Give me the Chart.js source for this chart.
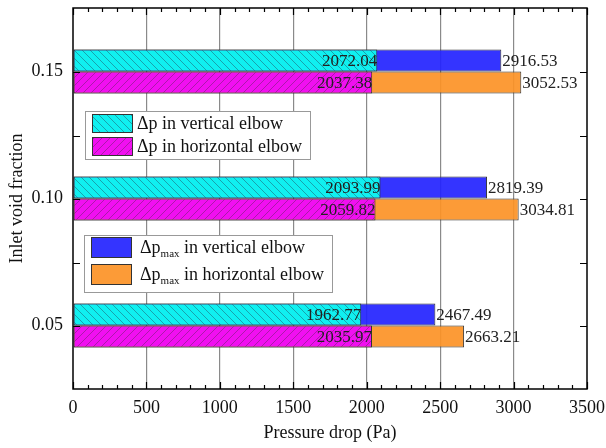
<!DOCTYPE html>
<html>
<head>
<meta charset="utf-8">
<script src="https://cdn.jsdelivr.net/npm/chart.js@4"></script>
<style>
  html, body { margin: 0; padding: 0; background: #fff; }
  #wrap { width: 606px; height: 448px; }
</style>
</head>
<body>
<div id="wrap"><canvas id="c" width="606" height="448"></canvas></div>
<script>
// data
const fractions = ['0.15', '0.10', '0.05'];
const dpVertical = [2072.04, 2093.99, 1962.77];
const dpHorizontal = [2037.38, 2059.82, 2035.97];
const dpMaxVertical = [2916.53, 2819.39, 2467.49];
const dpMaxHorizontal = [3052.53, 3034.81, 2663.21];
const xTicks = [0, 500, 1000, 1500, 2000, 2500, 3000, 3500];

const FONT = '"Liberation Serif", "Times New Roman", serif';

function makeHatch(bg, line, dir) {
    const c = document.createElement('canvas');
    c.width = 8; c.height = 8;
    const g = c.getContext('2d');
    g.fillStyle = bg;
    g.fillRect(0, 0, 8, 8);
    g.strokeStyle = line;
    g.lineWidth = 0.8;
    g.beginPath();
    if (dir === 'back') {
        g.moveTo(-1, -1); g.lineTo(9, 9);
        g.moveTo(7, -1); g.lineTo(9, 1);
        g.moveTo(-1, 7); g.lineTo(1, 9);
    } else {
        g.moveTo(-1, 9); g.lineTo(9, -1);
        g.moveTo(-1, 1); g.lineTo(1, -1);
        g.moveTo(7, 9); g.lineTo(9, 7);
    }
    g.stroke();
    return g.createPattern(c, 'repeat');
}

const ctx = document.getElementById('c').getContext('2d');
const cyanHatch = makeHatch('#10f0f0', '#1a8f9a', 'back');
const magentaHatch = makeHatch('#f010f0', '#9a1a9a', 'fwd');
const blueFill = 'rgba(35,35,255,0.92)';
const orangeFill = 'rgba(252,146,38,0.92)';

// frame, inward ticks, value labels, legends
const decor = {
    id: 'decor',
    afterDatasetsDraw(chart) {
        const g = chart.ctx;
        g.save();
        g.font = '17px ' + FONT;
        g.fillStyle = '#222';
        g.textBaseline = 'middle';
        [0, 1].forEach(di => {
            chart.getDatasetMeta(di).data.forEach((bar, i) => {
                g.textAlign = 'right';
                g.fillText(chart.data.datasets[di].data[i].toFixed(2), bar.x, bar.y + 1);
            });
        });
        [2, 3].forEach(di => {
            chart.getDatasetMeta(di).data.forEach((bar, i) => {
                g.textAlign = 'left';
                g.fillText(chart.data.datasets[di].data[i].toFixed(2), bar.x + 1, bar.y + 1);
            });
        });
        g.restore();
    },
    afterDraw(chart) {
        const g = chart.ctx;
        const a = chart.chartArea;
        const xs = chart.scales.x, ys = chart.scales.y;
        g.save();
        g.strokeStyle = '#000';
        g.lineWidth = 1.5;
        g.strokeRect(a.left, a.top, a.right - a.left, a.bottom - a.top);
        g.lineWidth = 1.2;
        g.beginPath();
        for (let v = 0; v <= 3500; v += 100) {
            const px = Math.round(xs.getPixelForValue(v)) + 0.5;
            const len = v % 500 === 0 ? 7 : 4;
            g.moveTo(px, a.bottom); g.lineTo(px, a.bottom - len);
            g.moveTo(px, a.top); g.lineTo(px, a.top + len);
        }
        const step = ys.getPixelForValue(1) - ys.getPixelForValue(0);
        for (let i = 0; i < fractions.length; i++) {
            const py = Math.round(ys.getPixelForValue(i)) + 0.5;
            g.moveTo(a.left, py); g.lineTo(a.left + 7, py);
            g.moveTo(a.right, py); g.lineTo(a.right - 7, py);
            if (i > 0) {
                const my = Math.round(py - step / 2) + 0.5;
                g.moveTo(a.left, my); g.lineTo(a.left + 7, my);
                g.moveTo(a.right, my); g.lineTo(a.right - 7, my);
            }
        }
        g.stroke();

        function legendBox(x, y, w, h, items) {
            g.fillStyle = '#fff';
            g.fillRect(x, y, w, h);
            g.strokeStyle = '#999';
            g.lineWidth = 1;
            g.strokeRect(x + 0.5, y + 0.5, w, h);
            items.forEach(it => {
                g.fillStyle = it.fill;
                g.fillRect(it.sx, it.sy, 40, it.sh);
                g.strokeStyle = '#333';
                g.strokeRect(it.sx + 0.5, it.sy + 0.5, 40, it.sh);
                g.fillStyle = '#111';
                g.textAlign = 'left';
                g.textBaseline = 'middle';
                g.font = '18px ' + FONT;
                const ty = it.sy + it.sh / 2 + 1;
                let tx = it.tx;
                g.fillText(it.main, tx, ty);
                tx += g.measureText(it.main).width;
                if (it.sub) {
                    g.font = '11px ' + FONT;
                    g.fillText(it.sub, tx, ty + 6);
                    tx += g.measureText(it.sub).width;
                    g.font = '18px ' + FONT;
                }
                g.fillText(it.rest, tx, ty);
            });
        }
        legendBox(85, 111, 225, 48, [
            {fill: cyanHatch, sx: 92, sy: 114, sh: 18, tx: 137, main: '\u0394p', rest: ' in vertical elbow'},
            {fill: magentaHatch, sx: 92, sy: 137, sh: 18, tx: 137, main: '\u0394p', rest: ' in horizontal elbow'}
        ]);
        legendBox(84, 235, 248, 57, [
            {fill: blueFill, sx: 91, sy: 237, sh: 20, tx: 140, main: '\u0394p', sub: 'max', rest: ' in vertical elbow'},
            {fill: orangeFill, sx: 91, sy: 264, sh: 20, tx: 140, main: '\u0394p', sub: 'max', rest: ' in horizontal elbow'}
        ]);
        g.restore();
    }
};

new Chart(ctx, {
    type: 'bar',
    data: {
        labels: fractions,
        datasets: [
            {label: '\u0394p in vertical elbow', data: dpVertical, stack: 'v', backgroundColor: cyanHatch},
            {label: '\u0394p in horizontal elbow', data: dpHorizontal, stack: 'h', backgroundColor: magentaHatch},
            {label: '\u0394p max in vertical elbow', data: dpMaxVertical, stack: 'v', backgroundColor: blueFill},
            {label: '\u0394p max in horizontal elbow', data: dpMaxHorizontal, stack: 'h', backgroundColor: orangeFill}
        ].map(d => Object.assign(d, {
            borderColor: '#333', borderWidth: 1, borderSkipped: false,
            barPercentage: 1, categoryPercentage: 0.347
        }))
    },
    options: {
        indexAxis: 'y',
        responsive: false,
        animation: false,
        layout: {padding: {top: 8, right: 19, left: 0, bottom: 0}},
        plugins: {legend: {display: false}, tooltip: {enabled: false}},
        scales: {
            x: {
                type: 'linear', min: 0, max: 3500, stacked: false,
                afterBuildTicks: s => { s.ticks = xTicks.map(v => ({value: v})); },
                afterFit: s => { s.height = 59; s.paddingLeft = 0; s.paddingRight = 0; },
                grid: {
                    drawTicks: false,
                    color: c => (c.tick && (c.tick.value === 0 || c.tick.value === 3500)) ? 'rgba(0,0,0,0)' : '#8a8a8a',
                    lineWidth: 1.2
                },
                border: {display: false},
                ticks: {color: '#111', padding: 8, font: {family: FONT, size: 18}, callback: v => String(v)},
                title: {display: true, text: 'Pressure drop (Pa)', color: '#111',
                        font: {family: FONT, size: 18}, padding: {top: 0, bottom: 4}}
            },
            y: {
                type: 'category', offset: true,
                afterFit: s => { s.width = 73; s.paddingTop = 0; s.paddingBottom = 0; },
                grid: {display: false, drawTicks: false},
                border: {display: false},
                ticks: {color: '#111', padding: 10, font: {family: FONT, size: 18}},
                title: {display: true, text: 'Inlet void fraction', color: '#111',
                        font: {family: FONT, size: 18}, padding: {top: 6, bottom: 0}}
            }
        }
    },
    plugins: [decor]
});
</script>
</body>
</html>
